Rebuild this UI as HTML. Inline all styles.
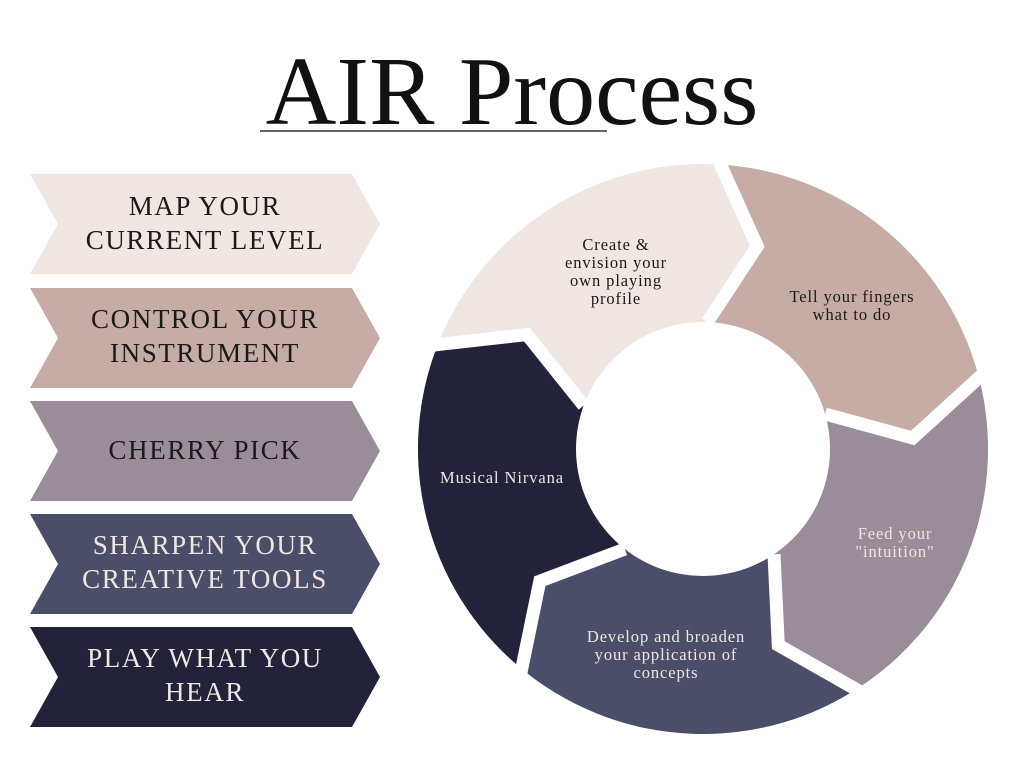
<!DOCTYPE html>
<html><head><meta charset="utf-8"><style>
html,body{margin:0;padding:0;background:#fff;}
body{width:1024px;height:768px;position:relative;overflow:hidden;font-family:"Liberation Serif",serif;}
</style></head><body>
<svg width="1024" height="768" viewBox="0 0 1024 768" xmlns="http://www.w3.org/2000/svg" style="position:absolute;left:0;top:0">
<text x="512" y="124" text-anchor="middle" font-family="Liberation Serif, serif" font-size="98" fill="#111" letter-spacing="0">AIR Process</text>
<line x1="260" y1="131" x2="607" y2="131" stroke="#333" stroke-width="1.5"/>

<g font-family="Liberation Serif, serif" font-size="27" text-anchor="middle" letter-spacing="1.6">
<polygon points="30,174 352,174 380,224 352,274 30,274 58,224" fill="#f0e6e2"/>
<text x="205" y="215" fill="#1a1a1a">MAP YOUR</text>
<text x="205" y="249" fill="#1a1a1a">CURRENT LEVEL</text>
<polygon points="30,288 352,288 380,338 352,388 30,388 58,338" fill="#c6aca5"/>
<text x="205" y="328" fill="#1a1a1a">CONTROL YOUR</text>
<text x="205" y="362" fill="#1a1a1a">INSTRUMENT</text>
<polygon points="30,401 352,401 380,451 352,501 30,501 58,451" fill="#9a8c98"/>
<text x="205" y="459" fill="#1a1a1a">CHERRY PICK</text>
<polygon points="30,514 352,514 380,564 352,614 30,614 58,564" fill="#4a4e69"/>
<text x="205" y="554" fill="#f0e6e2">SHARPEN YOUR</text>
<text x="205" y="588" fill="#f0e6e2">CREATIVE TOOLS</text>
<polygon points="30,627 352,627 380,677 352,727 30,727 58,677" fill="#22223b"/>
<text x="205" y="667" fill="#f0e6e2">PLAY WHAT YOU</text>
<text x="205" y="701" fill="#f0e6e2">HEAR</text>
</g>

<path d="M583.7,405.6 L526.9,334.6 L435.2,351.5 A285,285 0 0 1 712.9,164.2 L757.3,246.2 L707.4,322.1 L703,449 Z" fill="#f0e6e2"/>
<path d="M707.4,322.1 L757.3,246.2 L712.9,164.2 A285,285 0 0 1 977.0,370.5 L912.7,438.0 L825.1,414.0 L703,449 Z" fill="#c6aca5"/>
<path d="M825.1,414.0 L912.7,438.0 L977.0,370.5 A285,285 0 0 1 862.4,685.3 L778.3,645.1 L774.0,554.3 L703,449 Z" fill="#9a8c98"/>
<path d="M774.0,554.3 L778.3,645.1 L862.4,685.3 A285,285 0 0 1 527.5,673.6 L539.8,581.2 L624.8,549.1 L703,449 Z" fill="#4a4e69"/>
<path d="M624.8,549.1 L539.8,581.2 L527.5,673.6 A285,285 0 0 1 435.2,351.5 L526.9,334.6 L583.7,405.6 L703,449 Z" fill="#22223b"/>
<g fill="none" stroke="#fff" stroke-width="13" stroke-linejoin="miter">
<polyline points="713.5,149.2 757.3,246.2 707.4,322.1"/>
<polyline points="991.4,366.3 912.7,438.0 825.1,414.0"/>
<polyline points="870.8,697.7 778.3,645.1 774.0,554.3"/>
<polyline points="518.3,685.4 539.8,581.2 624.8,549.1"/>
<polyline points="421.1,346.4 526.9,334.6 583.7,405.6"/>
</g>
<circle cx="703" cy="449" r="127" fill="#fff"/>

<g font-family="Liberation Serif, serif" font-size="16.5" text-anchor="middle" letter-spacing="0.9">
<text x="616" y="250" fill="#1a1a1a">Create &amp;</text>
<text x="616" y="268" fill="#1a1a1a">envision your</text>
<text x="616" y="286" fill="#1a1a1a">own playing</text>
<text x="616" y="304" fill="#1a1a1a">profile</text>
<text x="852" y="302" fill="#1a1a1a">Tell your fingers</text>
<text x="852" y="320" fill="#1a1a1a">what to do</text>
<text x="895" y="539" fill="#f0e6e2">Feed your</text>
<text x="895" y="557" fill="#f0e6e2">"intuition"</text>
<text x="666" y="642" fill="#f0e6e2">Develop and broaden</text>
<text x="666" y="660" fill="#f0e6e2">your application of</text>
<text x="666" y="678" fill="#f0e6e2">concepts</text>
<text x="502" y="483" fill="#f0e6e2">Musical Nirvana</text>
</g>
</svg>
</body></html>
